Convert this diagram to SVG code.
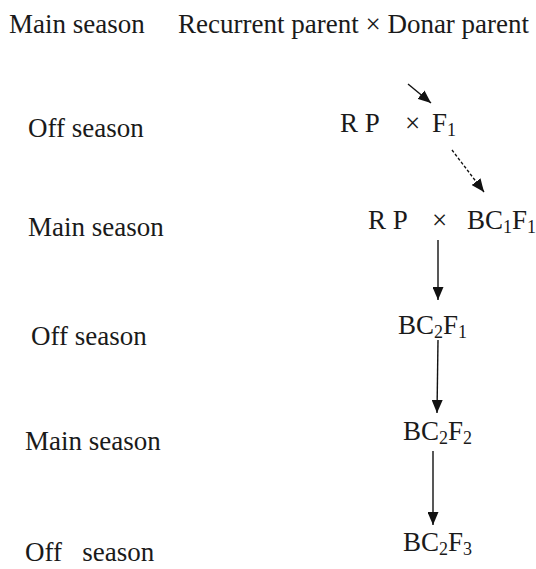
<svg xmlns="http://www.w3.org/2000/svg" width="536" height="569" viewBox="0 0 536 569">
<style>
text{font-family:"Liberation Serif","Times New Roman",serif;font-size:27px;fill:#1a1a1a}
.sub{font-size:18px}
.c{stroke:#111;stroke-width:1.4;fill:none}
</style>
<defs>
<marker id="ah" markerWidth="13" markerHeight="11" refX="13" refY="5.5" orient="auto" markerUnits="userSpaceOnUse" viewBox="0 0 13 11">
<path d="M0,0 L13,5.5 L0,11 z" fill="#111"/>
</marker>
</defs>
<rect width="536" height="569" fill="#fff"/>
<g id="labels">
<text x="9" y="33">Main season</text>
<text x="28" y="137">Off season</text>
<text x="28" y="236">Main season</text>
<text x="31" y="345">Off season</text>
<text x="25" y="450">Main season</text>
<text x="25" y="561" xml:space="preserve">Off   season</text>
</g>
<g id="n0"><text x="178" y="33">Recurrent parent × Donar parent</text></g>
<g id="n1"><text y="132"><tspan x="340">R P</tspan><tspan x="405">×</tspan><tspan x="432">F</tspan><tspan class="sub" dy="4">1</tspan></text></g>
<g id="n2"><text y="229"><tspan x="368">R P</tspan><tspan x="432">×</tspan><tspan x="467">BC</tspan><tspan class="sub" dy="4">1</tspan><tspan dy="-4">F</tspan><tspan class="sub" dy="4">1</tspan></text></g>
<g id="n3"><text x="398" y="334">BC<tspan class="sub" dy="4">2</tspan><tspan dy="-4">F</tspan><tspan class="sub" dy="4">1</tspan></text></g>
<g id="n4"><text x="403" y="440">BC<tspan class="sub" dy="4">2</tspan><tspan dy="-4">F</tspan><tspan class="sub" dy="4">2</tspan></text></g>
<g id="n5"><text x="403" y="551">BC<tspan class="sub" dy="4">2</tspan><tspan dy="-4">F</tspan><tspan class="sub" dy="4">3</tspan></text></g>
<g id="connectors">
<line class="c" x1="408" y1="84" x2="431" y2="103" marker-end="url(#ah)"/>
<line class="c" x1="452" y1="150" x2="484" y2="192" stroke-dasharray="3,2" marker-end="url(#ah)"/>
<line class="c" x1="438" y1="240" x2="438" y2="300" marker-end="url(#ah)"/>
<line class="c" x1="438" y1="340" x2="437" y2="413" marker-end="url(#ah)"/>
<line class="c" x1="433" y1="451" x2="433" y2="525" marker-end="url(#ah)"/>
</g>
</svg>
